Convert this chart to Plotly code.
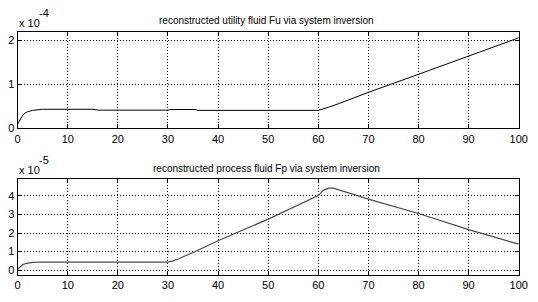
import plotly.graph_objects as go

# ---- data (values in units of the axis multiplier) ----
fu_x = [0, 0.5, 1, 1.5, 2, 3, 4, 5, 15, 16, 30, 30.5, 35.5, 36, 60, 61, 62, 64, 70, 80, 90, 100]
fu_y = [0.1, 0.22, 0.3, 0.35, 0.38, 0.41, 0.42, 0.435, 0.435, 0.415, 0.415, 0.43, 0.43, 0.41, 0.41, 0.44, 0.48, 0.56, 0.82, 1.23, 1.65, 2.06]
fu_scale = 1e-4

fp_x = [0, 0.5, 1, 2, 3, 5, 30, 31, 32, 35, 40, 50, 59, 60, 61, 62, 63, 70, 80, 90, 100]
fp_y = [0.05, 0.2, 0.3, 0.38, 0.42, 0.43, 0.43, 0.5, 0.6, 0.95, 1.58, 2.75, 3.9, 4.02, 4.3, 4.42, 4.42, 3.83, 3.05, 2.18, 1.4]
fp_scale = 1e-5

x_ticks = [0, 10, 20, 30, 40, 50, 60, 70, 80, 90, 100]
fu_ticks = [0, 1, 2]
fp_ticks = [0, 1, 2, 3, 4]

titles = ["reconstructed utility fluid Fu via system inversion",
          "reconstructed process fluid Fp via system inversion"]

W, H = 538, 302
FONT = "Liberation Sans, Arial, sans-serif"

def px(xp):
    return xp / W

def py(yp):
    return 1 - yp / H

fig = go.Figure()
fig.add_trace(go.Scatter(x=fu_x, y=[v * fu_scale for v in fu_y], mode="lines",
                         line=dict(color="#000000", width=1), xaxis="x", yaxis="y",
                         showlegend=False))
fig.add_trace(go.Scatter(x=fp_x, y=[v * fp_scale for v in fp_y], mode="lines",
                         line=dict(color="#4a4a4a", width=1.2), xaxis="x2", yaxis="y2",
                         showlegend=False))

axis_common = dict(showline=True, linecolor="black", linewidth=1, mirror="ticks",
                   ticks="inside", ticklen=4, tickcolor="black",
                   showgrid=True, gridcolor="black", gridwidth=1, griddash="1px,2px",
                   zeroline=False, ticklabeloverflow="allow",
                   tickfont=dict(family=FONT, size=11, color="black"))

xdom = [px(15), px(527.5)]
fig.update_layout(
    width=W, height=H, autosize=False,
    margin=dict(l=0, r=0, t=0, b=0),
    paper_bgcolor="white", plot_bgcolor="white",
    xaxis=dict(domain=xdom, range=[0, 100], tickvals=x_ticks, anchor="y", **axis_common),
    yaxis=dict(domain=[py(131), py(32.3)], range=[0, 2.2 * fu_scale],
               tickvals=[t * fu_scale for t in fu_ticks], ticktext=[str(t) for t in fu_ticks],
               anchor="x", **axis_common),
    xaxis2=dict(domain=xdom, range=[0, 100], tickvals=x_ticks, anchor="y2", **axis_common),
    yaxis2=dict(domain=[py(280.7), py(182.3)], range=[-0.27 * fp_scale, 4.93 * fp_scale],
                tickvals=[t * fp_scale for t in fp_ticks], ticktext=[str(t) for t in fp_ticks],
                anchor="x2", **axis_common),
)

ann = []
for title, ty, ey, exp in [(titles[0], 21, 23, "-4"), (titles[1], 171.5, 173, "-5")]:
    ann.append(dict(text=title, x=px(270), y=py(ty), xref="paper", yref="paper",
                    showarrow=False, xanchor="center", yanchor="middle",
                    font=dict(family=FONT, size=10, color="black")))
    ann.append(dict(text="x 10", x=px(14), y=py(ey), xref="paper", yref="paper",
                    showarrow=False, xanchor="left", yanchor="middle",
                    font=dict(family=FONT, size=11, color="black")))
    ann.append(dict(text=exp, x=px(35), y=py(ey - 10), xref="paper", yref="paper",
                    showarrow=False, xanchor="left", yanchor="middle",
                    font=dict(family=FONT, size=11, color="black")))
fig.update_layout(annotations=ann)

fig.write_html("out.html", config={"displayModeBar": False},
               post_script="document.body.style.margin='0';document.body.style.overflow='hidden';")
